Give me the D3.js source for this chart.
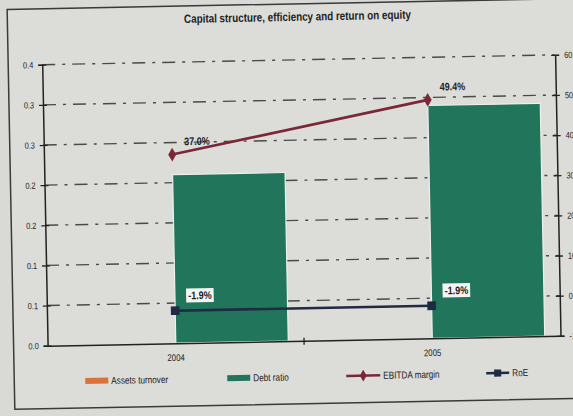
<!DOCTYPE html>
<html>
<head>
<meta charset="utf-8">
<script src="https://cdn.jsdelivr.net/npm/d3@7"></script>
<style>
  html, body { margin: 0; padding: 0; background: #d9d9d6; }
  svg { display: block; }
  text { font-family: "Liberation Sans", Arial, sans-serif; fill: #222; transform-box: fill-box; transform: scaleX(0.82); }
  /* narrow look, like Arial Narrow */
  text.a-start { transform-origin: left center; }
  text.a-mid { transform-origin: center center; }
  text.a-end { transform-origin: right center; }
</style>
</head>
<body>
<svg id="chart"></svg>
<script>
const years = ['2004', '2005']
const seriesBars = ['Assets turnover', 'Debt ratio']
const assetsTurnover = [null, null]   // no visible bars in the picture
const debtRatio = [0.21, 0.29]
const ebitdaMargin = [37.0, 49.4]
const roe = [-1.9, -1.9]
const leftTicks = [0, 0.05, 0.1, 0.15, 0.2, 0.25, 0.3, 0.35]
const leftTickLabels = ['0.0', '0.1', '0.1', '0.2', '0.2', '0.3', '0.3', '0.4']
const rightTicks = [-10, 0, 10, 20, 30, 40, 50, 60]
const rightTickLabels = ['-10.0%', '0.0%', '10.0%', '20.0%', '30.0%', '40.0%', '50.0%', '60.0%']
const legendItems = ['Assets turnover', 'Debt ratio', 'EBITDA margin', 'RoE']

const width = 573, height = 416
const margin = { top: 60, right: 15, bottom: 75, left: 45 }
const colors = { assets: '#d9733a', debt: '#21755a', ebitda: '#7a2838', roe: '#1f2a44' }

const svg = d3.select('#chart').attr('width', width).attr('height', height)
svg.append('rect').attr('width', width).attr('height', height).attr('fill', '#d9d9d6')

// the photo is slightly tilted
const g = svg.append('g').attr('transform', 'rotate(-1.1, 290, 208)')

g.append('rect')
    .attr('x', 11).attr('y', 4).attr('width', 620).attr('height', 400)
    .attr('fill', '#dcdcd9').attr('stroke', '#3a3a3a').attr('stroke-width', 1.5)

g.append('text')
    .attr('class', 'a-mid')
    .attr('x', 301).attr('y', 21)
    .attr('text-anchor', 'middle')
    .attr('font-size', 12).attr('font-weight', 'bold')
    .text('Capital structure, efficiency and return on equity')

const x0 = margin.left, x1 = width - margin.right
const yBase = height - margin.bottom

const x = d3.scaleBand().domain(years).range([x0, x1]).paddingInner(0.123).paddingOuter(0.0615)
const xs = d3.scaleBand().domain(seriesBars).range([0, x.bandwidth()])
const yL = d3.scaleLinear().domain([0, 0.35]).range([yBase, margin.top])
const yR = d3.scaleLinear().domain([-10, 60]).range([yBase, margin.top])
const xc = (d) => x(d) + x.bandwidth() / 2

// gridlines
g.append('g').selectAll('line')
    .data(leftTicks.filter(d => d > 0))
    .join('line')
    .attr('x1', x0).attr('x2', x1)
    .attr('y1', d => yL(d)).attr('y2', d => yL(d))
    .attr('stroke', '#4a4a4a').attr('stroke-width', 1.4)
    .attr('stroke-dasharray', '13,7,3,7')

// bars
const barData = [
    ...years.map((yr, i) => ({ year: yr, key: 'Assets turnover', value: assetsTurnover[i], color: colors.assets })),
    ...years.map((yr, i) => ({ year: yr, key: 'Debt ratio', value: debtRatio[i], color: colors.debt }))
].filter(d => d.value != null)

g.append('g').selectAll('rect')
    .data(barData)
    .join('rect')
    .attr('x', d => x(d.year) + xs(d.key))
    .attr('width', xs.bandwidth())
    .attr('y', d => yL(d.value))
    .attr('height', d => yBase - yL(d.value))
    .attr('fill', d => d.color)
    .attr('stroke', '#eef0ee').attr('stroke-width', 1.2)

// axes
const left = g.append('g')
    .attr('transform', `translate(${ x0 },0)`)
    .call(d3.axisLeft(yL).tickValues(leftTicks).tickFormat((d, i) => leftTickLabels[i]).tickSize(4).tickPadding(5))
left.selectAll('.tick line').attr('x1', 4).attr('stroke', '#222').attr('stroke-width', 1.3)
left.select('.domain').attr('stroke', '#222').attr('stroke-width', 1.5)
left.selectAll('.tick text').attr('class', 'a-end').attr('font-size', 9).attr('font-family', null)

const right = g.append('g')
    .attr('transform', `translate(${ x1 },0)`)
    .call(d3.axisRight(yR).tickValues(rightTicks).tickFormat((d, i) => rightTickLabels[i]).tickSize(4).tickPadding(5))
right.selectAll('.tick line').attr('x1', -4).attr('stroke', '#222').attr('stroke-width', 1.3)
right.select('.domain').attr('stroke', '#222').attr('stroke-width', 1.5)
right.selectAll('.tick text').attr('class', 'a-start').attr('font-size', 9).attr('font-family', null)

const bottom = g.append('g')
    .attr('transform', `translate(0,${ yBase })`)
    .call(d3.axisBottom(x).tickSize(0).tickPadding(11))
bottom.select('.domain').attr('stroke', '#222').attr('stroke-width', 1.5)
bottom.selectAll('.tick text').attr('class', 'a-mid').attr('font-size', 9.5).attr('font-family', null)
const midTick = (x(years[0]) + x.bandwidth() + x(years[1])) / 2
bottom.append('line')
    .attr('x1', midTick).attr('x2', midTick).attr('y1', -3).attr('y2', 4)
    .attr('stroke', '#222').attr('stroke-width', 1.3)

// lines
const line = d3.line().x((d, i) => xc(years[i])).y(d => yR(d))

const drawLine = (values, color, symbol, size, labels, boxed, dy) => {
    g.append('path')
        .datum(values)
        .attr('fill', 'none')
        .attr('stroke', color)
        .attr('stroke-width', 2.6)
        .attr('d', line)
    g.append('g').selectAll('path')
        .data(values)
        .join('path')
        .attr('transform', (d, i) => `translate(${ xc(years[i]) },${ yR(d) })`)
        .attr('d', d3.symbol(symbol, size))
        .attr('fill', color)
    const lab = g.append('g').selectAll('g')
        .data(values)
        .join('g')
        .attr('transform', (d, i) => `translate(${ xc(years[i]) + 25 },${ yR(d) + dy })`)
    lab.append('text')
        .attr('class', 'a-mid')
        .attr('text-anchor', 'middle').attr('dy', '0.35em')
        .attr('font-size', 11).attr('font-weight', 'bold')
        .text((d, i) => labels[i])
    if (boxed) {
        lab.insert('rect', 'text').each(function () {
            const b = this.parentNode.querySelector('text').getBBox()
            const w = b.width * 0.82
            d3.select(this).attr('x', -w / 2 - 2).attr('y', b.y - 1).attr('width', w + 4).attr('height', b.height + 2)
                .attr('fill', '#f4f5f3')
        })
    }
}
drawLine(ebitdaMargin, colors.ebitda, d3.symbolDiamond, 55, ebitdaMargin.map(v => v.toFixed(1) + '%'), false, -13)
drawLine(roe, colors.roe, d3.symbolSquare, 75, roe.map(v => v.toFixed(1) + '%'), true, -15)

// legend
const legendX = [82, 224, 343, 483]
const legendY = 377
const legend = g.append('g').selectAll('g')
    .data(legendItems)
    .join('g')
    .attr('transform', (d, i) => `translate(${ legendX[i] },${ legendY })`)
legend.each(function (d, i) {
    const s = d3.select(this)
    if (i < 2) {
        s.append('rect').attr('x', 0).attr('y', -3).attr('width', 23).attr('height', 6)
            .attr('fill', i === 0 ? colors.assets : colors.debt)
    } else {
        const c = i === 2 ? colors.ebitda : colors.roe
        s.append('line').attr('x1', 0).attr('x2', i === 2 ? 34 : 23).attr('y1', 0).attr('y2', 0)
            .attr('stroke', c).attr('stroke-width', 2.6)
        s.append('path')
            .attr('transform', `translate(${ i === 2 ? 17 : 11.5 },0)`)
            .attr('d', d3.symbol(i === 2 ? d3.symbolDiamond : d3.symbolSquare, i === 2 ? 40 : 50))
            .attr('fill', c)
    }
    s.append('text')
        .attr('class', 'a-start')
        .attr('x', i === 2 ? 37 : 26).attr('dy', '0.35em')
        .attr('font-size', 10)
        .text(d)
})
</script>
</body>
</html>
